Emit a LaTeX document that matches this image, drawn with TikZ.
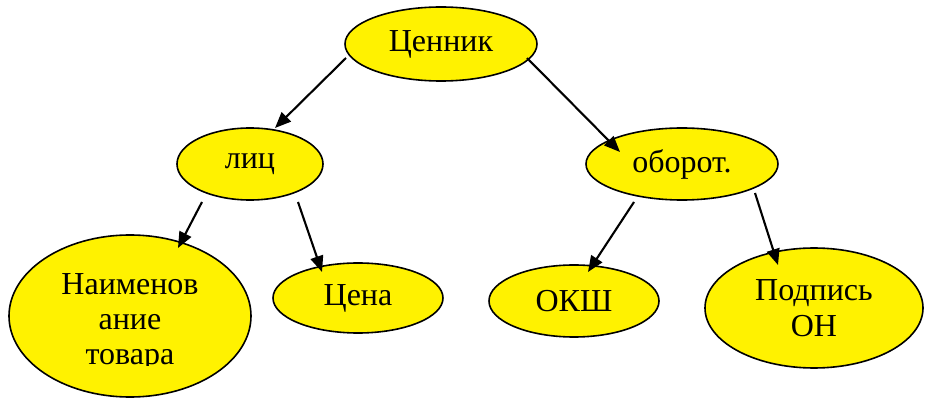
\documentclass[tikz,border=0pt]{standalone}
\usepackage{fontspec}
\setmainfont{Liberation Serif}
\usetikzlibrary{shapes.geometric,arrows.meta,calc}
\tikzset{
  oval/.style={ellipse, draw=black, line width=1.6pt, fill=yellow, inner sep=0pt,
    align=center, font=\fontsize{32}{36}\selectfont},
  txt/.style={inner sep=0pt, align=center, font=\fontsize{32}{35}\selectfont},
  arr/.style={line width=2.1pt, -{Triangle[length=16pt,width=13pt]}}
}
\begin{document}
\begin{tikzpicture}[x=1pt,y=-1pt]
\useasboundingbox (0,0) rectangle (930,406);
\node[oval, minimum width=192pt, minimum height=74pt] (cen) at (441,44) {Ценник};
\node[oval, minimum width=146pt, minimum height=72pt] (lic) at (250,164) {лиц};
\node[oval, minimum width=192pt, minimum height=72pt] (obo) at (682,164) {оборот.};
\node[oval, minimum width=242pt, minimum height=162pt] (nai) at (130,316) {};
\begin{scope}
\clip (0,230) rectangle (260,366);
\node[txt] (naitxt) at (130,322) {Наименов\\ание\\товара};
\end{scope}
\node[oval, minimum width=170pt, minimum height=70pt] (cena) at (358,298) {Цена};
\node[oval, minimum width=170pt, minimum height=72pt] (oksh) at (574,301) {ОКШ};
\node[oval, minimum width=218pt, minimum height=120pt] (pod) at (814,308) {Подпись\\ОН};
\draw[arr] ($(cen)+(-95,14)$) -- ($(lic)+(25,-36)$);
\draw[arr] ($(cen)+(86,14)$) -- ($(obo)+(-62,-12)$);
\draw[arr] ($(lic)+(-48,38)$) -- ($(nai)+(48,-68)$);
\draw[arr] ($(lic)+(48,38)$) -- ($(cena)+(-36,-26)$);
\draw[arr] ($(obo)+(-48,38)$) -- ($(oksh)+(14,-29)$);
\draw[arr] ($(obo)+(73,29)$) -- ($(pod)+(-36,-43)$);
\end{tikzpicture}
\end{document}
